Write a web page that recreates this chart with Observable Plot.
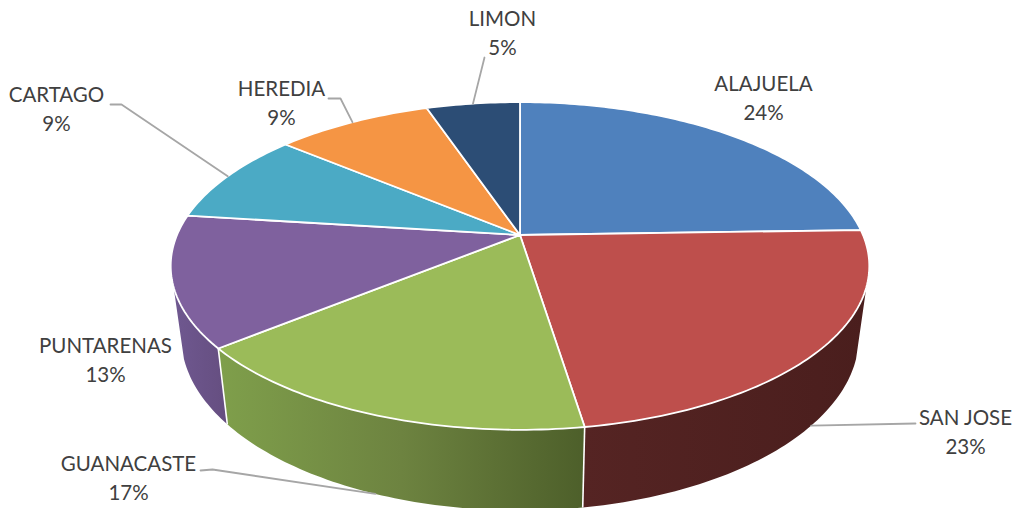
<!DOCTYPE html>
<html>
<head>
<meta charset="utf-8">
<script src="https://cdn.jsdelivr.net/npm/d3@7"></script>
<script src="https://cdn.jsdelivr.net/npm/@observablehq/plot@0.6"></script>
<style>html,body{margin:0;padding:0;background:#fff}svg{display:block}</style>
</head>
<body>
<div id="chart"></div>
<script>
// Data
const provinces = ["ALAJUELA", "SAN JOSE", "GUANACASTE", "PUNTARENAS", "CARTAGO", "HEREDIA", "LIMON"];
const shares = [24.5, 23.05, 16.55, 12.9, 9.1, 8.7, 5.2];
const shareLabels = ["24%", "23%", "17%", "13%", "9%", "9%", "5%"];

// Styles
const topColors = ["#4F81BD", "#BE4F4C", "#9BBB59", "#7F619E", "#4BAAC5", "#F59544", "#2C4D75"];
const wallStops = {
  1: ["#552423", "#4A1E1D"],
  2: ["#7F9F4B", "#6D8340", "#4D5F2A"],
  3: ["#6F5890", "#654E80"]
};

// Layout of the labels and leader elbows
const labelX = [763, 965, 128, 105, 56, 281, 502];
const labelY = [98, 432, 478, 360, 109, 103, 33];
const leaderElbow = [null, [915, 423], [212, 469], null, [121, 104], [340, 98], [484, 57]];
const leaderStart = [null, [915, 423], [200, 470], null, [110, 104], [328, 98], [484, 57]];
const leaderOnBottomEdge = [false, true, true, false, false, false, false];

// Perspective of the disc
const apex = [519.5, 234.5], R = 343, S = 158, K = 0.189;
const wallScaleX = 0.97, wallScaleY = 1.06, wallDrop = 69;
const silhouette = [108, 252]; // disc angles where the wall meets the outline

const rad = d => d * Math.PI / 180;
function topPoint(deg) {
  const u = Math.sin(rad(deg)), v = Math.cos(rad(deg)), w = 1 + K * v;
  return [apex[0] + R * u / w, apex[1] - S * v / w];
}
function bottomPoint(deg) {
  const [x, y] = topPoint(deg);
  return [apex[0] + (x - apex[0]) * wallScaleX, apex[1] + wallDrop + (y - apex[1]) * wallScaleY];
}
function arc(fn, a, b) {
  const n = Math.max(2, Math.ceil(Math.abs(b - a)));
  return d3.range(n + 1).map(i => fn(a + (b - a) * i / n));
}

const total = d3.sum(shares);
const cumulative = d3.cumsum(shares);
const ends = Array.from(cumulative, c => c / total * 360);
const starts = [0, ...ends.slice(0, -1)];

const row = ([x, y]) => ({x, y});
const xy = {x: "x", y: "y"};

// Top slices
const topPolys = provinces.map((_, i) =>
  [apex, ...arc(topPoint, starts[i], ends[i]), apex].map(row));

// Walls
const wallRanges = {
  1: [silhouette[0], ends[1]],
  2: [starts[2], ends[2]],
  3: [starts[3], silhouette[1]]
};
const wallPolys = Object.entries(wallRanges).map(([i, [a, b]]) => ({
  i,
  pts: [...arc(topPoint, a, b), ...arc(bottomPoint, b, a)].map(row)
}));

// Seams between walls
const seamAngles = [ends[1], ends[2]];
const seams = seamAngles.map(a => {
  const t = topPoint(a), b = bottomPoint(a);
  return {x1: t[0], y1: t[1], x2: b[0], y2: b[1]};
});

// Leaders
const leaders = provinces.flatMap((_, i) => {
  if (!leaderElbow[i]) return [];
  const mid = (starts[i] + ends[i]) / 2;
  const end = (leaderOnBottomEdge[i] ? bottomPoint : topPoint)(mid);
  return [leaderStart[i], leaderElbow[i], end].map(([x, y]) => ({x, y, i}));
});

const labels = provinces.map((p, i) => ({
  x: labelX[i], y: labelY[i] - 2.5, text: p + "\n" + shareLabels[i]
}));

function gradients() {
  const defs = d3.create("svg:defs");
  Object.entries(wallStops).forEach(([i, stops]) => {
    const g = defs.append("linearGradient").attr("id", "wall" + i)
      .attr("x1", 0).attr("x2", 1).attr("y1", 0).attr("y2", 0);
    stops.forEach((c, k) => g.append("stop")
      .attr("offset", k / (stops.length - 1)).attr("stop-color", c));
  });
  return defs.node();
}

const chart = Plot.plot({
  width: 1013,
  height: 508,
  margin: 0,
  style: {background: "#fff"},
  x: {axis: null, domain: [0, 1013], range: [0, 1013]},
  y: {axis: null, domain: [0, 508], range: [0, 508]},
  marks: [
    gradients,
    ...wallPolys.map(w => Plot.line(w.pts, {...xy, fill: `url(#wall${w.i})`, stroke: "none"})),
    Plot.link(seams, {x1: "x1", y1: "y1", x2: "x2", y2: "y2", stroke: "#fff", strokeWidth: 1.6}),
    ...topPolys.map((pts, i) => Plot.line(pts, {...xy, fill: topColors[i], stroke: "#fff", strokeWidth: 1.8, strokeLinejoin: "round"})),
    Plot.line(leaders, {...xy, z: "i", stroke: "#A6A6A6", strokeWidth: 1.8}),
    Plot.text(labels, {
      x: "x", y: "y", text: "text",
      fontFamily: "Lato", fontSize: 20.5, lineHeight: 1.44,
      fill: "#404040", textAnchor: "middle", lineAnchor: "middle"
    })
  ]
});
document.getElementById("chart").append(chart);
</script>
</body>
</html>
